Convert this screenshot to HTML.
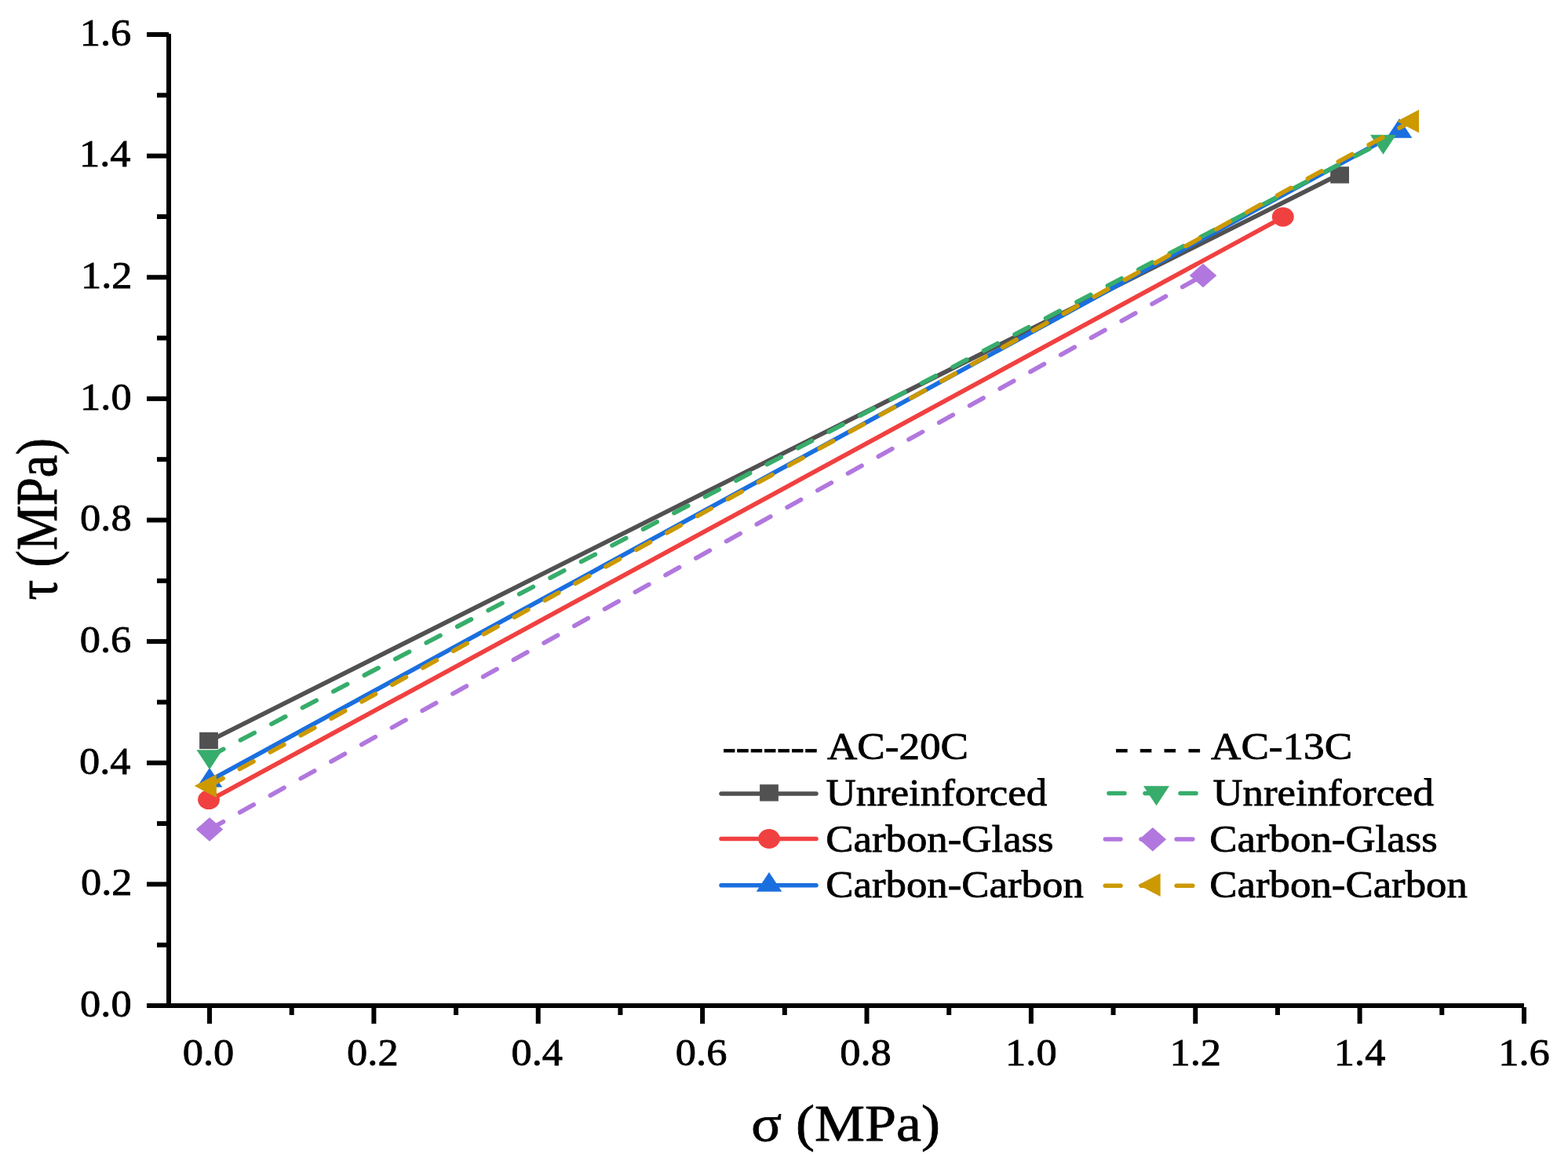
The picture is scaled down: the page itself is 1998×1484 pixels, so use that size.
<!DOCTYPE html><html><head><meta charset="utf-8"><style>html,body{margin:0;padding:0;background:#fff;}svg{display:block;}text{font-family:"Liberation Serif", "Times New Roman", serif;fill:#000;stroke:#000;stroke-width:0.8px;}</style></head><body>
<svg width="1998" height="1484" viewBox="0 0 1998 1484">
<rect x="0" y="0" width="1998" height="1484" fill="#fff"/>
<line x1="266.0" y1="944.3" x2="1707.1" y2="221.9" stroke="#515151" stroke-width="5.7" stroke-linecap="round"/>
<rect x="254.10" y="932.75" width="23.8" height="21.3" fill="#515151"/>
<rect x="1695.20" y="212.25" width="23.8" height="21.3" fill="#515151"/>
<line x1="266.0" y1="1020.1" x2="1634.8" y2="276.7" stroke="#F14040" stroke-width="5.7" stroke-linecap="round"/>
<ellipse cx="266.00" cy="1018.70" rx="13.9" ry="12.4" fill="#F14040"/>
<ellipse cx="1634.80" cy="276.30" rx="13.9" ry="12.4" fill="#F14040"/>
<line x1="267.0" y1="994.5" x2="1783.1" y2="167.5" stroke="#1A6FDF" stroke-width="5.7" stroke-linecap="round"/>
<polygon points="267.00,978.10 283.30,1002.70 250.70,1002.70" fill="#1A6FDF"/>
<polygon points="1783.10,151.10 1799.40,175.70 1766.80,175.70" fill="#1A6FDF"/>
<line x1="267.0" y1="963.5" x2="1762.5" y2="180.2" stroke="#37AD6B" stroke-width="5.7" stroke-linecap="round" stroke-dasharray="20.0 24.55"/>
<polygon points="250.50,955.17 283.50,955.17 267.00,980.17" fill="#37AD6B"/>
<polygon points="1746.00,171.87 1779.00,171.87 1762.50,196.87" fill="#37AD6B"/>
<line x1="267.0" y1="1056.4" x2="1533.0" y2="350.9" stroke="#B177DE" stroke-width="5.7" stroke-linecap="round" stroke-dasharray="20.0 24.35"/>
<polygon points="267.00,1041.15 284.25,1056.40 267.00,1071.65 249.75,1056.40" fill="#B177DE"/>
<polygon points="1533.00,335.65 1550.25,350.90 1533.00,366.15 1515.75,350.90" fill="#B177DE"/>
<line x1="266.5" y1="1001.1" x2="1798.7" y2="154.5" stroke="#CC9900" stroke-width="5.7" stroke-linecap="round" stroke-dasharray="20.0 24.43"/>
<polygon points="247.70,1001.10 275.90,986.30 275.90,1015.90" fill="#CC9900"/>
<polygon points="1779.90,154.50 1808.10,139.70 1808.10,169.30" fill="#CC9900"/>
<rect x="212" y="43" width="6" height="1241" fill="#000"/>
<rect x="212" y="1278" width="1730" height="6" fill="#000"/>
<rect x="187" y="1278.00" width="28" height="6" fill="#000"/>
<rect x="200" y="1200.69" width="13" height="6" fill="#000"/>
<rect x="187" y="1123.38" width="28" height="6" fill="#000"/>
<rect x="200" y="1046.06" width="13" height="6" fill="#000"/>
<rect x="187" y="968.75" width="28" height="6" fill="#000"/>
<rect x="200" y="891.44" width="13" height="6" fill="#000"/>
<rect x="187" y="814.12" width="28" height="6" fill="#000"/>
<rect x="200" y="736.81" width="13" height="6" fill="#000"/>
<rect x="187" y="659.50" width="28" height="6" fill="#000"/>
<rect x="200" y="582.19" width="13" height="6" fill="#000"/>
<rect x="187" y="504.88" width="28" height="6" fill="#000"/>
<rect x="200" y="427.56" width="13" height="6" fill="#000"/>
<rect x="187" y="350.25" width="28" height="6" fill="#000"/>
<rect x="200" y="272.94" width="13" height="6" fill="#000"/>
<rect x="187" y="195.62" width="28" height="6" fill="#000"/>
<rect x="200" y="118.31" width="13" height="6" fill="#000"/>
<rect x="187" y="41.00" width="28" height="6" fill="#000"/>
<rect x="264.00" y="1283" width="6" height="21" fill="#000"/>
<rect x="368.69" y="1283" width="6" height="10" fill="#000"/>
<rect x="473.38" y="1283" width="6" height="21" fill="#000"/>
<rect x="578.06" y="1283" width="6" height="10" fill="#000"/>
<rect x="682.75" y="1283" width="6" height="21" fill="#000"/>
<rect x="787.44" y="1283" width="6" height="10" fill="#000"/>
<rect x="892.13" y="1283" width="6" height="21" fill="#000"/>
<rect x="996.81" y="1283" width="6" height="10" fill="#000"/>
<rect x="1101.50" y="1283" width="6" height="21" fill="#000"/>
<rect x="1206.19" y="1283" width="6" height="10" fill="#000"/>
<rect x="1310.88" y="1283" width="6" height="21" fill="#000"/>
<rect x="1415.56" y="1283" width="6" height="10" fill="#000"/>
<rect x="1520.25" y="1283" width="6" height="21" fill="#000"/>
<rect x="1624.94" y="1283" width="6" height="10" fill="#000"/>
<rect x="1729.63" y="1283" width="6" height="21" fill="#000"/>
<rect x="1834.31" y="1283" width="6" height="10" fill="#000"/>
<rect x="1939.00" y="1283" width="6" height="21" fill="#000"/>
<text transform="translate(102.09,1294.80) scale(1.075,1)" font-size="48.8">0.0</text>
<text transform="translate(102.99,1140.17) scale(1.075,1)" font-size="48.8">0.2</text>
<text transform="translate(100.91,985.55) scale(1.075,1)" font-size="48.8">0.4</text>
<text transform="translate(101.66,830.92) scale(1.075,1)" font-size="48.8">0.6</text>
<text transform="translate(102.09,676.30) scale(1.075,1)" font-size="48.8">0.8</text>
<text transform="translate(102.09,521.67) scale(1.075,1)" font-size="48.8">1.0</text>
<text transform="translate(102.99,367.05) scale(1.075,1)" font-size="48.8">1.2</text>
<text transform="translate(100.91,212.43) scale(1.075,1)" font-size="48.8">1.4</text>
<text transform="translate(101.66,57.80) scale(1.075,1)" font-size="48.8">1.6</text>
<text transform="translate(265.50,1356.5) scale(1.075,1)" font-size="48.8" text-anchor="middle">0.0</text>
<text transform="translate(474.88,1356.5) scale(1.075,1)" font-size="48.8" text-anchor="middle">0.2</text>
<text transform="translate(684.25,1356.5) scale(1.075,1)" font-size="48.8" text-anchor="middle">0.4</text>
<text transform="translate(893.63,1356.5) scale(1.075,1)" font-size="48.8" text-anchor="middle">0.6</text>
<text transform="translate(1103.00,1356.5) scale(1.075,1)" font-size="48.8" text-anchor="middle">0.8</text>
<text transform="translate(1313.88,1356.5) scale(1.075,1)" font-size="48.8" text-anchor="middle">1.0</text>
<text transform="translate(1523.25,1356.5) scale(1.075,1)" font-size="48.8" text-anchor="middle">1.2</text>
<text transform="translate(1732.63,1356.5) scale(1.075,1)" font-size="48.8" text-anchor="middle">1.4</text>
<text transform="translate(1942.00,1356.5) scale(1.075,1)" font-size="48.8" text-anchor="middle">1.6</text>
<text transform="translate(957.30,1452.80) scale(1.107,1)" font-size="65">σ (MPa)</text>
<text transform="translate(71.8,661.3) scale(1.14,1) rotate(-90)" font-size="64.3" text-anchor="middle">τ (MPa)</text>
<text transform="translate(920.39,968.00) scale(1.067,1)" font-size="49">-------</text>
<text transform="translate(1053.91,967.00) scale(1.085,1)" font-size="49">AC-20C</text>
<text transform="translate(1420.47,968.00) scale(1.079,1)" font-size="49">- - - -</text>
<text transform="translate(1543.01,967.00) scale(1.085,1)" font-size="49">AC-13C</text>
<line x1="919" y1="1010.9" x2="1040" y2="1010.9" stroke="#515151" stroke-width="5.5" stroke-linecap="round"/>
<rect x="968.10" y="999.25" width="23.8" height="21.3" fill="#515151"/>
<line x1="919" y1="1068.5" x2="1040" y2="1068.5" stroke="#F14040" stroke-width="5.5" stroke-linecap="round"/>
<ellipse cx="980.00" cy="1068.50" rx="13.9" ry="12.4" fill="#F14040"/>
<line x1="919" y1="1127.7" x2="1040" y2="1127.7" stroke="#1A6FDF" stroke-width="5.5" stroke-linecap="round"/>
<polygon points="980.00,1111.10 996.30,1135.70 963.70,1135.70" fill="#1A6FDF"/>
<text transform="translate(1052.52,1026.20) scale(1.078,1)" font-size="49">Unreinforced</text>
<text transform="translate(1052.26,1084.70) scale(1.078,1)" font-size="49">Carbon-Glass</text>
<text transform="translate(1052.26,1143.30) scale(1.078,1)" font-size="49">Carbon-Carbon</text>
<line x1="1413" y1="1010.6" x2="1433" y2="1010.6" stroke="#37AD6B" stroke-width="5.5" stroke-linecap="round"/>
<line x1="1459" y1="1010.6" x2="1479" y2="1010.6" stroke="#37AD6B" stroke-width="5.5" stroke-linecap="round"/>
<line x1="1504" y1="1010.6" x2="1524" y2="1010.6" stroke="#37AD6B" stroke-width="5.5" stroke-linecap="round"/>
<polygon points="1457.00,1001.27 1490.00,1001.27 1473.50,1026.27" fill="#37AD6B"/>
<text transform="translate(1545.42,1026.20) scale(1.078,1)" font-size="49">Unreinforced</text>
<line x1="1408.3" y1="1069.0" x2="1428" y2="1069.0" stroke="#B177DE" stroke-width="5.5" stroke-linecap="round"/>
<line x1="1454" y1="1069.0" x2="1474" y2="1069.0" stroke="#B177DE" stroke-width="5.5" stroke-linecap="round"/>
<line x1="1499.1" y1="1069.0" x2="1519.8" y2="1069.0" stroke="#B177DE" stroke-width="5.5" stroke-linecap="round"/>
<polygon points="1468.80,1053.95 1486.05,1069.20 1468.80,1084.45 1451.55,1069.20" fill="#B177DE"/>
<text transform="translate(1541.36,1084.70) scale(1.078,1)" font-size="49">Carbon-Glass</text>
<line x1="1408.3" y1="1128.2" x2="1428" y2="1128.2" stroke="#CC9900" stroke-width="5.5" stroke-linecap="round"/>
<line x1="1454" y1="1128.2" x2="1474" y2="1128.2" stroke="#CC9900" stroke-width="5.5" stroke-linecap="round"/>
<line x1="1499.1" y1="1128.2" x2="1519.8" y2="1128.2" stroke="#CC9900" stroke-width="5.5" stroke-linecap="round"/>
<polygon points="1450.40,1127.20 1478.60,1112.40 1478.60,1142.00" fill="#CC9900"/>
<text transform="translate(1541.36,1143.30) scale(1.078,1)" font-size="49">Carbon-Carbon</text>
</svg></body></html>
